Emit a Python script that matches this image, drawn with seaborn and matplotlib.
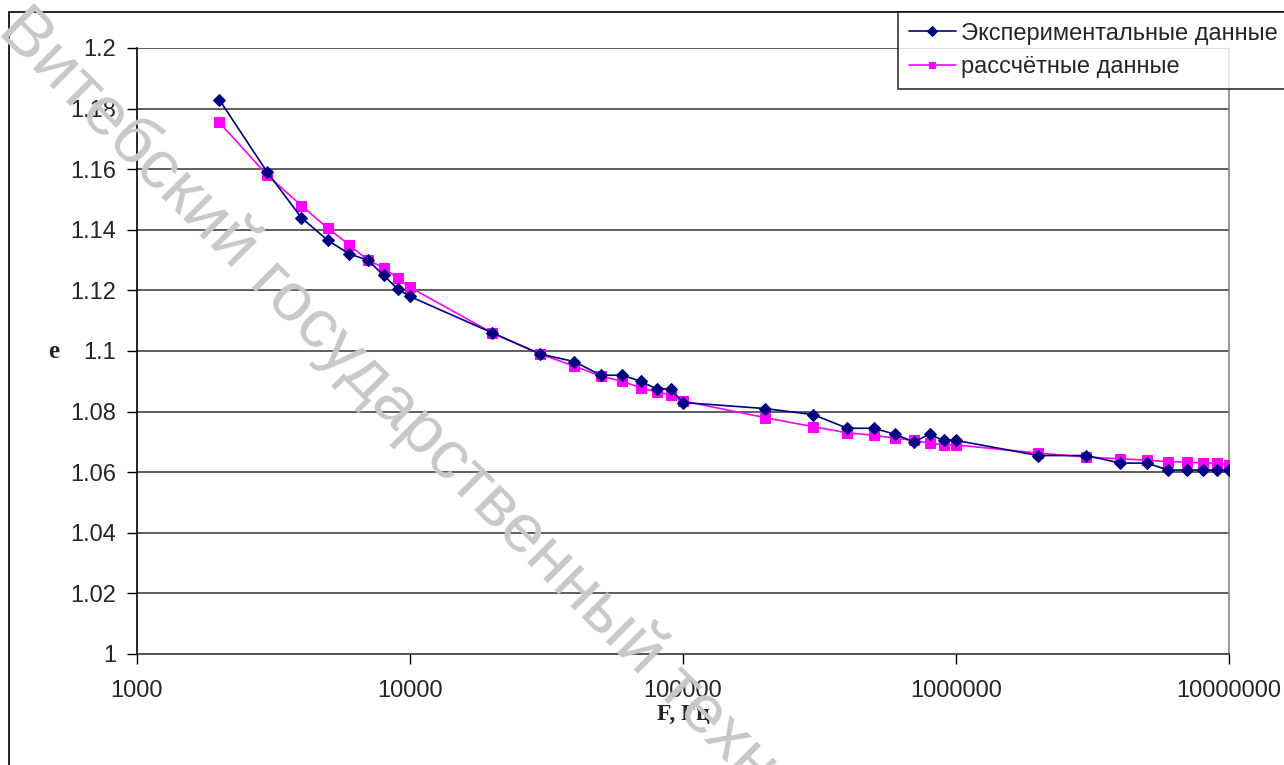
import numpy as np
import pandas as pd
import matplotlib
matplotlib.use("Agg")
import matplotlib.pyplot as plt
import matplotlib.ticker as mticker
from matplotlib.patches import Rectangle
import seaborn as sns

# frequency, Hz
freq = [2000, 3000, 4000, 5000, 6000, 7000, 8000, 9000,
        10000, 20000, 30000, 40000, 50000, 60000, 70000, 80000, 90000,
        100000, 200000, 300000, 400000, 500000, 600000, 700000, 800000, 900000,
        1000000, 2000000, 3000000, 4000000, 5000000, 6000000, 7000000, 8000000, 9000000,
        10000000]

e_exp = [1.183, 1.159, 1.144, 1.1365, 1.132, 1.130, 1.125, 1.1205,
         1.118, 1.106, 1.099, 1.0965, 1.092, 1.092, 1.090, 1.0875, 1.0875,
         1.083, 1.081, 1.079, 1.0745, 1.0745, 1.0725, 1.070, 1.0725, 1.0705,
         1.0705, 1.0655, 1.0655, 1.063, 1.063, 1.0607, 1.0607, 1.0607, 1.0607,
         1.0607]

e_calc = [1.1755, 1.158, 1.148, 1.1405, 1.135, 1.130, 1.1275, 1.124,
          1.121, 1.106, 1.099, 1.095, 1.0917, 1.090, 1.0878, 1.0865, 1.0855,
          1.0835, 1.078, 1.075, 1.073, 1.0722, 1.0712, 1.0705, 1.0696, 1.069,
          1.069, 1.0663, 1.065, 1.0644, 1.064, 1.0634, 1.0634, 1.063, 1.063,
          1.0624]

label_exp = "Экспериментальные данные"
label_calc = "рассчётные данные"
x_ticks = [1000, 10000, 100000, 1000000, 10000000]
y_ticks = [1.0, 1.02, 1.04, 1.06, 1.08, 1.1, 1.12, 1.14, 1.16, 1.18, 1.2]

sns.set_style("white")
plt.rcParams["font.family"] = ["Liberation Sans", "DejaVu Sans"]

W, H = 1284, 765
fig = plt.figure(figsize=(W / 100, H / 100), dpi=100)
ax = fig.add_axes([137 / W, 1 - 654 / H, (1229 - 137) / W, (654 - 48) / H])

# outer chart frame
fig.patches.append(Rectangle((9 / W, -0.01), 1.2, 1 - 12 / H + 0.01, transform=fig.transFigure,
                             fill=False, edgecolor="black", lw=1.2, zorder=0))

df_exp = pd.DataFrame({"F": freq, "e": e_exp})
df_calc = pd.DataFrame({"F": freq, "e": e_calc})
sns.lineplot(data=df_calc, x="F", y="e", ax=ax, color="#ff00ff", lw=1.2,
             marker="s", markersize=7.5, markeredgecolor="#ff00ff", label=label_calc, zorder=3)
sns.lineplot(data=df_exp, x="F", y="e", ax=ax, color="#000080", lw=1.2,
             marker="D", markersize=6, markeredgecolor="#000080", label=label_exp, zorder=4)

ax.set_xscale("log")
ax.set_xlim(1000, 10000000)
ax.set_ylim(1.0, 1.2)
ax.set_xticks(x_ticks)
ax.xaxis.set_major_formatter(mticker.FuncFormatter(lambda v, p: f"{int(round(v))}"))
ax.xaxis.set_minor_locator(mticker.NullLocator())
ax.set_yticks(y_ticks)
ax.yaxis.set_major_formatter(mticker.FuncFormatter(lambda v, p: f"{v:g}"))
ax.tick_params(axis="both", which="major", direction="out", length=7, width=1,
               color="black", labelsize=17, pad=8, bottom=True, left=True)
ax.tick_params(axis="x", pad=12)

ax.grid(False)
for y in y_ticks[1:]:
    ax.axhline(y, color="#333333", lw=1.1, zorder=1)
ax.spines["top"].set_visible(False)
ax.spines["left"].set_color("black")
ax.spines["bottom"].set_color("#333333")
ax.spines["right"].set_color("#888888")
for s in ax.spines.values():
    s.set_linewidth(1.2)

ax.set_xlabel("F, Гц", fontsize=17, fontweight="bold",
              family=["Liberation Serif", "DejaVu Serif"], labelpad=1)
ax.set_ylabel("e", fontsize=18, fontweight="bold", family=["Liberation Serif", "DejaVu Serif"],
              rotation=0, labelpad=12, va="center")

handles, labels = ax.get_legend_handles_labels()
ax.get_legend().remove()
leg = fig.legend(handles[::-1], labels[::-1], loc="upper left",
                 bbox_to_anchor=(898 / W, 1 - 12 / H), frameon=True, fancybox=False,
                 fontsize=17, handlelength=2.0, handletextpad=0.2, borderpad=0.45,
                 labelspacing=0.5, borderaxespad=0)
leg.get_frame().set_edgecolor("black")
leg.get_frame().set_linewidth(1.2)
for h in leg.legend_handles:
    h.set_markersize(5)

# watermark
fig.text(32 / W, 1 + 4 / H, "Витебский государственный технологический университет",
         rotation=-45, rotation_mode="anchor", ha="left", va="top",
         fontsize=50, color="#c8c8c8", zorder=10)

fig.savefig("out.png", dpi=100)
